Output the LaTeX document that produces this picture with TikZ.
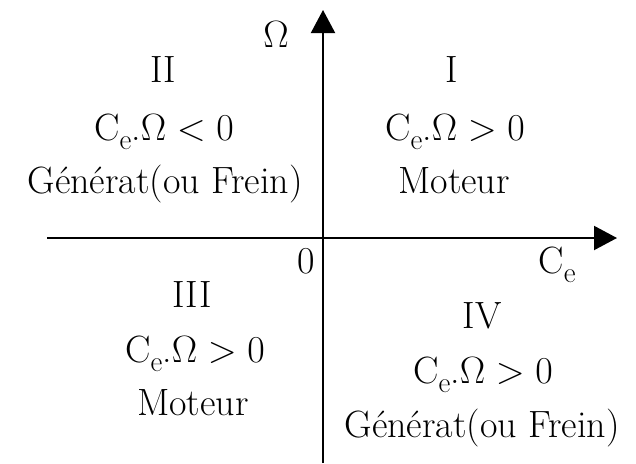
\RequirePackage{fix-cm}
\documentclass[tikz,border=0pt]{standalone}
\usetikzlibrary{arrows.meta}
\newcommand{\Csub}{C\raisebox{-9pt}{\fontsize{29}{30}\selectfont e}}
\begin{document}
\begin{tikzpicture}[x=1pt,y=-1pt,
  axis/.style={line width=2pt,-{Triangle[length=23pt,width=24pt]}},
  lbl/.style={anchor=base,inner sep=0pt,font=\fontsize{38}{46}\selectfont}]
\useasboundingbox (0,0) rectangle (636,463);
\coordinate (xs) at (47,238);
\coordinate (xe) at (617,238);
\coordinate (ys) at (323,463);
\coordinate (ye) at (323,10);
\draw[axis] (xs) -- (xe);
\draw[axis] (ys) -- (ye);
\node[lbl] (om) at (276,47) {$\Omega$};
\node[lbl] (zero) at (306,273) {0};
\node[lbl] (ce) at (557,273) {\Csub};
% quadrant II
\node[lbl] (q2) at (163,82) {II};
\node[lbl] (q2a) at (164,140) {\Csub.$\Omega < 0$};
\node[lbl] (q2b) at (165,193) {Générat(ou Frein)};
% quadrant I
\node[lbl] (q1) at (452,82) {I};
\node[lbl] (q1a) at (455,140) {\Csub.$\Omega > 0$};
\node[lbl] (q1b) at (454,193) {Moteur};
% quadrant III
\node[lbl] (q3) at (192,307) {III};
\node[lbl] (q3a) at (195,362) {\Csub.$\Omega > 0$};
\node[lbl] (q3b) at (193,415) {Moteur};
% quadrant IV
\node[lbl] (q4) at (482,328) {IV};
\node[lbl] (q4a) at (483,383) {\Csub.$\Omega > 0$};
\node[lbl] (q4b) at (482,437) {Générat(ou Frein)};
\end{tikzpicture}
\end{document}
